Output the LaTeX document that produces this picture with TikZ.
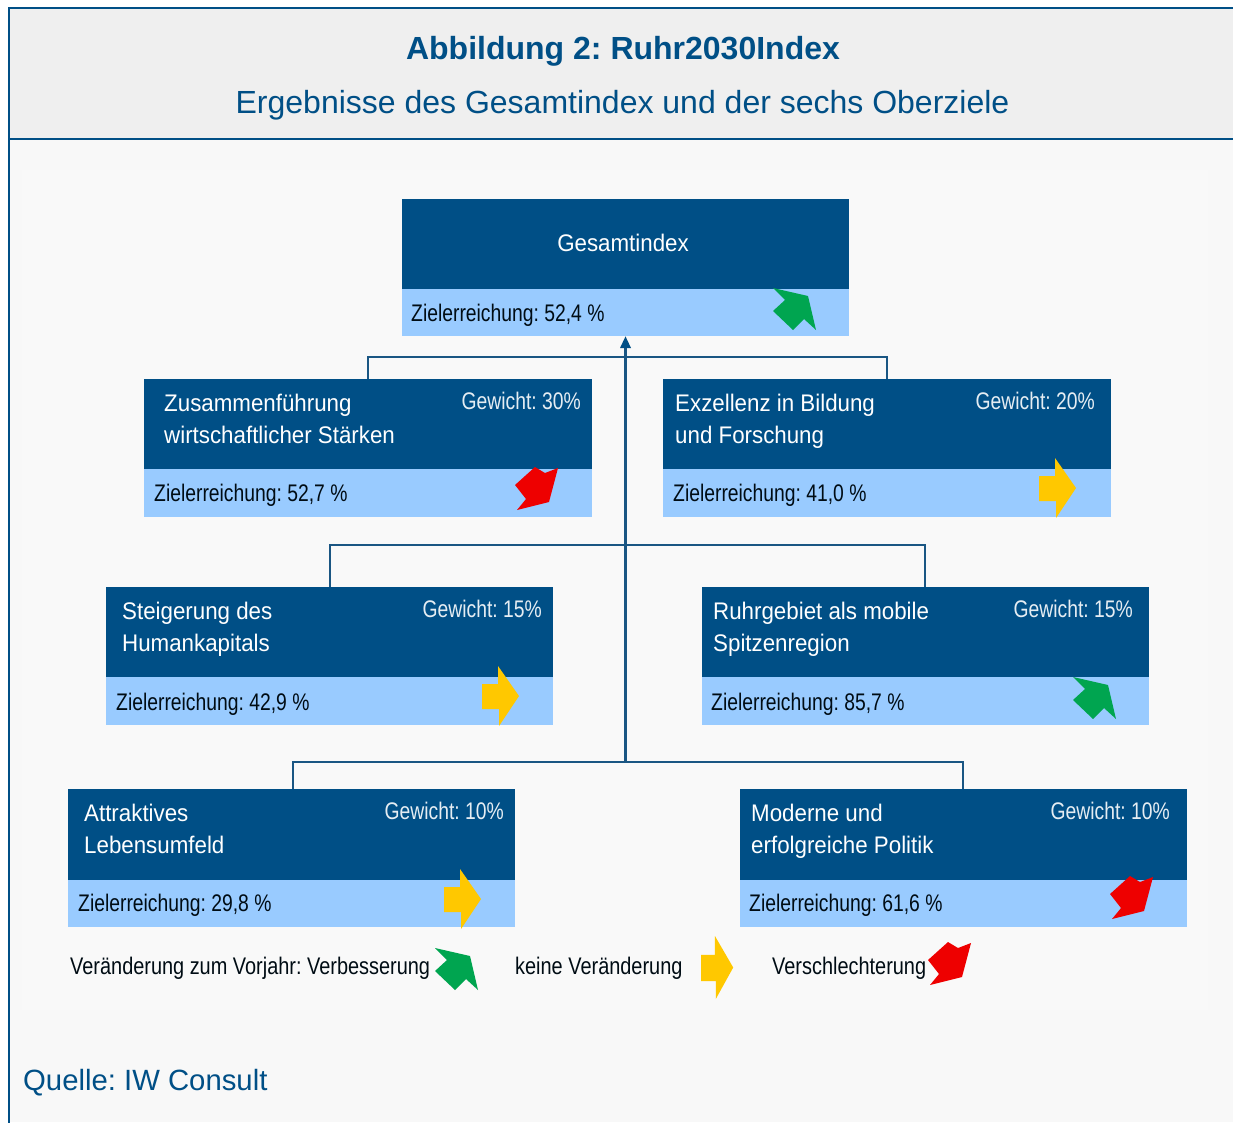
\documentclass[tikz,border=0pt]{standalone}
\usepackage{fontspec}
\setmainfont{Liberation Sans}
\newfontfamily\narrowf[FakeStretch=0.93]{Liberation Sans}
\newfontfamily\narrowd[FakeStretch=0.805]{Liberation Sans}
\newfontfamily\narrowl[FakeStretch=0.83]{Liberation Sans}
\frenchspacing
\definecolor{navy}{HTML}{004F86}
\definecolor{lightb}{HTML}{99CBFF}
\definecolor{headbg}{HTML}{EFEFEF}
\definecolor{pagebg}{HTML}{F8F8F8}
\definecolor{innerbg}{HTML}{F9F9F9}
\definecolor{linkc}{HTML}{1A5683}
\definecolor{arrg}{HTML}{00A550}
\definecolor{arry}{HTML}{FFC800}
\definecolor{arrr}{HTML}{EE0000}
\tikzset{
 x=1pt,y=-1pt,
 headbox/.style={fill=navy,draw=none,inner sep=0pt,anchor=north west},
 subbox/.style={fill=lightb,draw=none,inner sep=0pt,anchor=north west},
 whitetxt/.style={text=white,font=\narrowf\fontsize{24}{31.5}\selectfont,align=left,anchor=west,inner sep=0pt},
 weighttxt/.style={text=white!90!navy,font=\narrowd\fontsize{24}{28}\selectfont,anchor=base east,inner sep=0pt},
 darktxt/.style={text=black!85!navy,font=\narrowd\fontsize{24}{28}\selectfont,anchor=base west,inner sep=0pt},
 legendtxt/.style={text=black!85!navy,font=\narrowl\fontsize{24}{28}\selectfont,anchor=base west,inner sep=0pt},
 linkline/.style={draw=linkc,line width=2.8pt},
 trunk/.style={draw=linkc,line width=3.5pt},
 titletxt/.style={text=navy,inner sep=0pt},
}
\newcommand{\twol}[2]{\rule{0pt}{18pt}#1\\#2\rule[-6pt]{0pt}{6pt}}
\newcommand{\upArrow}[3]{\fill[arrg,shift={(#1,#2)},#3] (0,0)--(35,8)--(43,42)--(31,31)--(20,42)--(0,23)--(12,12)--cycle;}
\newcommand{\flatArrow}[3]{\fill[arry,shift={(#1,#2)},#3] (0,18)--(16,18)--(16,0)--(37,30)--(17,60)--(17,43)--(0,43)--cycle;}
\newcommand{\downArrow}[3]{\fill[arrr,shift={(#1,#2)},#3] (0,18)--(20,0)--(30,6)--(43,1)--(34,35)--(2,43)--(11,32)--cycle;}
\begin{document}
\begin{tikzpicture}
\useasboundingbox (0,0) rectangle (1233,1122);
\fill[pagebg] (0,0) rectangle (1233,1122);
\fill[innerbg] (22,170) rectangle (1208,1010);
\fill[white] (0,0) rectangle (9,1122);
\fill[white] (0,0) rectangle (1233,7);
\fill[headbg] (9,7) rectangle (1233,139);
\draw[navy,line width=2pt] (1234,7.5) -- (9,7.5) -- (9,1123);
\draw[navy,line width=2pt] (9,139) -- (1234,139);
\node[titletxt,font=\bfseries\fontsize{32}{36}\selectfont,anchor=base] (title) at (623,59) {Abbildung 2: Ruhr2030Index};
\node[titletxt,font=\fontsize{32}{36}\selectfont,anchor=base] (subtitle) at (622.5,113) {Ergebnisse des Gesamtindex und der sechs Oberziele};
% boxes
\node[headbox,minimum width=447pt,minimum height=90pt] (g) at (402,199) {};
\node[subbox,minimum width=447pt,minimum height=47pt] (gs) at (402,289) {};
\node[headbox,minimum width=448pt,minimum height=90pt] (a) at (144,379) {};
\node[subbox,minimum width=448pt,minimum height=48pt] (as) at (144,469) {};
\node[headbox,minimum width=448pt,minimum height=90pt] (b) at (663,379) {};
\node[subbox,minimum width=448pt,minimum height=48pt] (bs) at (663,469) {};
\node[headbox,minimum width=447pt,minimum height=90pt] (c) at (106,587) {};
\node[subbox,minimum width=447pt,minimum height=48pt] (cs) at (106,677) {};
\node[headbox,minimum width=447pt,minimum height=90pt] (d) at (702,587) {};
\node[subbox,minimum width=447pt,minimum height=48pt] (ds) at (702,677) {};
\node[headbox,minimum width=447pt,minimum height=91pt] (e) at (68,789) {};
\node[subbox,minimum width=447pt,minimum height=47pt] (es) at (68,880) {};
\node[headbox,minimum width=447pt,minimum height=91pt] (f) at (740,789) {};
\node[subbox,minimum width=447pt,minimum height=47pt] (fs) at (740,880) {};
% connectors
\coordinate (j0) at (625.5,762);
\coordinate (j1) at (625.5,545);
\coordinate (j2) at (625.5,357);
\draw[linkline] (a.north -| 368,0) -- (368,357) -- (887,357) -- (b.north -| 887,0);
\draw[linkline] (c.north -| 330,0) -- (330,545) -- (925,545) -- (d.north -| 925,0);
\draw[linkline] (e.north -| 293,0) -- (293,762) -- (963,762) -- (f.north -| 963,0);
\draw[trunk] (j0) -- (j1) -- (j2) -- (625.5,345);
\fill[navy] (gs.south -| 625.5,0) -- (631,348) -- (620,348) -- cycle;
% titles
\node[whitetxt,anchor=center] (gt) at (623,243) {Gesamtindex};
\node[whitetxt] (at) at (164,421.5) {\twol{Zusammenführung}{wirtschaftlicher Stärken}};
\node[whitetxt] (bt) at (675,421.5) {\twol{Exzellenz in Bildung}{und Forschung}};
\node[whitetxt] (ct) at (122,629.5) {\twol{Steigerung des}{Humankapitals}};
\node[whitetxt] (dt) at (713,629.5) {\twol{Ruhrgebiet als mobile}{Spitzenregion}};
\node[whitetxt] (et) at (84,831.5) {\twol{Attraktives}{Lebensumfeld}};
\node[whitetxt] (ft) at (751,831.5) {\twol{Moderne und}{erfolgreiche Politik}};
% weights
\node[weighttxt] (aw) at (581,409) {Gewicht: 30\%};
\node[weighttxt] (bw) at (1095,409) {Gewicht: 20\%};
\node[weighttxt] (cw) at (542,617) {Gewicht: 15\%};
\node[weighttxt] (dw) at (1133,617) {Gewicht: 15\%};
\node[weighttxt] (ew) at (504,819) {Gewicht: 10\%};
\node[weighttxt] (fw) at (1170,819) {Gewicht: 10\%};
% values
\node[darktxt] (gv) at (411,321.5) {Zielerreichung: 52,4 \%};
\node[darktxt] (av) at (154,501.5) {Zielerreichung: 52,7 \%};
\node[darktxt] (bv) at (673,501.5) {Zielerreichung: 41,0 \%};
\node[darktxt] (cv) at (116,710.5) {Zielerreichung: 42,9 \%};
\node[darktxt] (dv) at (711,710.5) {Zielerreichung: 85,7 \%};
\node[darktxt] (ev) at (78,911.5) {Zielerreichung: 29,8 \%};
\node[darktxt] (fv) at (749,911.5) {Zielerreichung: 61,6 \%};
% status arrows
\upArrow{773}{288}{}
\downArrow{515}{467}{}
\flatArrow{1039}{458}{}
\flatArrow{482}{666}{}
\upArrow{1073}{677}{}
\flatArrow{444}{869}{}
\downArrow{1110}{876}{}
% legend
\node[legendtxt] (l1) at (70,974.5) {Veränderung zum Vorjahr: Verbesserung};
\upArrow{435}{948}{}
\node[legendtxt] (l2) at (515,974.5) {keine Veränderung};
\flatArrow{701}{936}{xscale=.87,yscale=1.05}
\node[legendtxt] (l3) at (772,974.5) {Verschlechterung};
\downArrow{928}{942}{}
\node[titletxt,anchor=base west,font=\fontsize{29.3}{34}\selectfont] (src) at (23,1090) {Quelle: IW Consult};
\end{tikzpicture}
\end{document}
